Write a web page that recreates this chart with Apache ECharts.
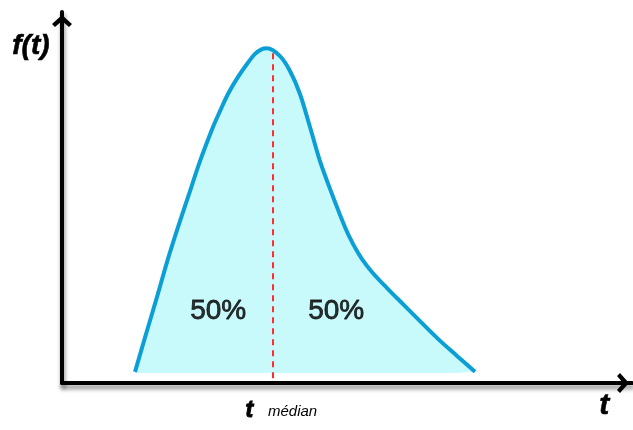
<!DOCTYPE html>
<html>
<head>
<meta charset="utf-8">
<script src="https://cdn.jsdelivr.net/npm/echarts@6/dist/echarts.min.js"></script>
<style>
  html, body { margin: 0; padding: 0; background: #fff; }
  #chart { width: 633px; height: 430px; }
</style>
</head>
<body>
<div id="chart"></div>
<script>
// courbe f(t) (unités arbitraires)
var tData = [1.281, 1.474, 1.667, 1.842, 2.035, 2.228, 2.421, 2.649, 2.772, 2.912, 3.088, 3.246, 3.386, 3.509, 3.596,
             3.825, 4.000, 4.175, 4.351, 4.526, 4.737, 4.965, 5.105, 5.263, 5.456, 5.702, 6.000, 6.298, 6.596, 6.930, 7.246];
var fData = [0.030, 0.132, 0.232, 0.326, 0.420, 0.509, 0.598, 0.690, 0.733, 0.779, 0.825, 0.860, 0.887, 0.900, 0.902,
             0.881, 0.841, 0.779, 0.690, 0.598, 0.509, 0.420, 0.375, 0.334, 0.296, 0.256, 0.210, 0.164, 0.119, 0.073, 0.030];
var fillBase = 0.027;
// médiane
var medianT = 3.702;
var medianF = [0.013, 0.89];
// étiquettes 50%
var pctT = [2.74, 4.81];
var pctF = [0.194, 0.194];
var pctLabels = ["50%", "50%"];

var chart = echarts.init(document.getElementById("chart"));

var arrow = "path://M0,9 L10,0 L20,9 L17,12 L10,6 L3,12 Z";
var axisLineStyle = {
  color: "#000",
  width: 4,
  shadowColor: "rgba(0,0,0,0.45)",
  shadowBlur: 4,
  shadowOffsetX: 1,
  shadowOffsetY: 4,
};

var option = {
  animation: false,
  grid: { left: 62, right: 1, top: 12, bottom: 47 },
  xAxis: {
    type: "value",
    min: 0,
    max: 10,
    axisLine: {
      show: true,
      symbol: ["none", arrow],
      symbolSize: [20, 18],
      symbolOffset: [0, -9],
      lineStyle: axisLineStyle,
    },
    axisTick: { show: false },
    axisLabel: { show: false },
    splitLine: { show: false },
  },
  yAxis: {
    type: "value",
    min: 0,
    max: 1,
    axisLine: {
      show: true,
      symbol: ["none", arrow],
      symbolSize: [20, 18],
      symbolOffset: [0, -9],
      lineStyle: axisLineStyle,
    },
    axisTick: { show: false },
    axisLabel: { show: false },
    splitLine: { show: false },
  },
  series: [
    {
      type: "line",
      data: tData.map(function (t, i) { return [t, fData[i]]; }),
      smooth: 0.3,
      showSymbol: false,
      lineStyle: { color: "#0c9fd6", width: 4 },
      areaStyle: { color: "#c8f9fb", opacity: 1, origin: fillBase },
      z: 2,
    },
    {
      type: "line",
      data: [[medianT, medianF[0]], [medianT, medianF[1]]],
      showSymbol: false,
      lineStyle: { color: "#ff2d2d", width: 2, type: [6, 5] },
      z: 3,
    },
    {
      type: "scatter",
      data: pctT.map(function (t, i) { return [t, pctF[i], pctLabels[i]]; }),
      symbolSize: 0,
      label: {
        show: true,
        position: "inside",
        formatter: function (p) { return p.data[2]; },
        color: "#000",
        fontSize: 28,
        fontFamily: "Liberation Sans, Arial, sans-serif",
        textBorderColor: "#000",
        textBorderWidth: 0.8,
      },
      z: 4,
    },
  ],
  graphic: [
    {
      type: "text",
      left: 12,
      top: 32,
      style: {
        text: "f(t)",
        font: "italic bold 28px 'Liberation Sans', Arial, sans-serif",
        fill: "#000",
        stroke: "#000",
        lineWidth: 0.6,
      },
    },
    {
      type: "text",
      left: 599,
      top: 390,
      style: {
        text: "t",
        font: "italic bold 30px 'Liberation Sans', Arial, sans-serif",
        fill: "#000",
        stroke: "#000",
        lineWidth: 0.6,
      },
    },
    {
      type: "text",
      left: 245,
      top: 399,
      style: {
        text: "t",
        font: "italic bold 23px 'Liberation Sans', Arial, sans-serif",
        fill: "#000",
        stroke: "#000",
        lineWidth: 1,
      },
    },
    {
      type: "text",
      left: 268,
      top: 404,
      style: {
        text: "médian",
        font: "italic 15px 'Liberation Sans', Arial, sans-serif",
        fill: "#000",
      },
    },
  ],
};

chart.setOption(option);
</script>
</body>
</html>
